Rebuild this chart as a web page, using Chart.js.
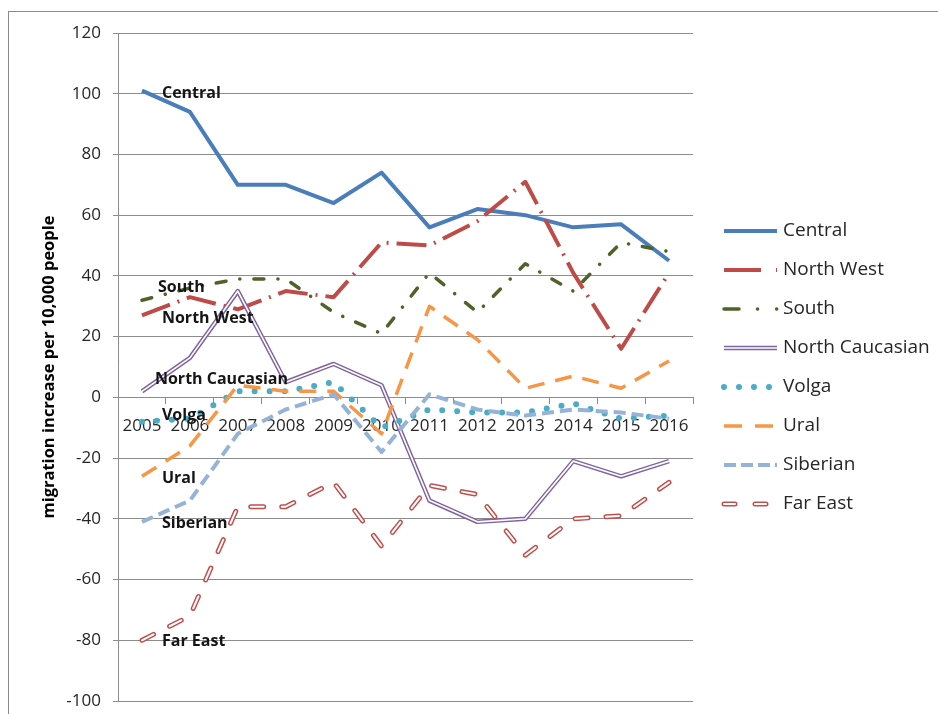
<!DOCTYPE html>
<html>
<head>
<meta charset="utf-8">
<script src="https://cdn.jsdelivr.net/npm/chart.js@4.4.0/dist/chart.umd.min.js"></script>
<style>
  html, body { margin: 0; padding: 0; background: #fff; }
  #wrap { position: relative; width: 938px; height: 714px; overflow: hidden; }
  #frame { position: absolute; left: 8px; top: 11px; width: 960px; height: 760px; border: 1px solid #8a8a8a; }
  #chart { position: absolute; left: 0; top: 0; }
</style>
</head>
<body>
<div id="wrap">
  <div id="frame"></div>
  <canvas id="chart" width="938" height="714"></canvas>
</div>
<script>
// ── Data ───────────────────────────────────────────────────────────────────
const YEARS = ['2005','2006','2007','2008','2009','2010','2011','2012','2013','2014','2015','2016'];

const CENTRAL         = [101, 94, 70, 70, 64, 74, 56, 62, 60, 56, 57, 45];
const NORTH_WEST      = [27, 33, 29, 35, 33, 51, 50, 58, 71, 41, 16, 41];
const SOUTH           = [32, 36, 39, 39, 28, 21, 41, 28, 44, 35, 51, 48];
const NORTH_CAUCASIAN = [2, 13, 35, 5, 11, 4, -34, -41, -40, -21, -26, -21];
const VOLGA           = [-8, -7, 2, 2, 5, -10, -4, -5, -5, -2, -7, -6];
const URAL            = [-26, -16, 4, 2, 2, -12, 30, 19, 3, 7, 3, 12];
const SIBERIAN        = [-41, -34, -12, -4, 1, -18, 1, -4, -6, -4, -5, -7];
const FAR_EAST        = [-80, -72, -36, -36, -28, -49, -29, -32, -52, -40, -39, -28];

const Y_MIN = -100, Y_MAX = 120, Y_STEP = 20;

// ── Styling ────────────────────────────────────────────────────────────────
Chart.defaults.font.family = "'Open Sans', sans-serif";
Chart.defaults.color = '#262626';

const GRID = '#8c8c8c';

function series(label, data, style) {
  return Object.assign({
    label: label,
    data: data,
    pointRadius: 0,
    pointHoverRadius: 0,
    fill: false,
    tension: 0,
    borderJoinStyle: 'round',
  }, style);
}

const datasets = [
  series('Central', CENTRAL, { borderColor: '#4A7EBB', borderWidth: 4, order: 9 }),
  series('North West', NORTH_WEST, { borderColor: '#BE4B48', borderWidth: 4, borderDash: [30, 8, 2, 8], legendDash: [37, 15, 3, 30], order: 8 }),
  series('South', SOUTH, { borderColor: '#4F6228', borderWidth: 3.5, borderCapStyle: 'round', borderDash: [10, 14, 0.1, 14], legendDash: [15, 18.5, 0.1, 19, 0.1, 40], order: 7 }),
  series('North Caucasian', NORTH_CAUCASIAN, { borderColor: '#8064A2', borderWidth: 4.5, order: 6 }),
  series('', NORTH_CAUCASIAN, { overlay: true, borderColor: '#ffffff', borderWidth: 1.6, order: 5.5 }),
  series('Volga', VOLGA, { borderColor: '#4BACC6', borderWidth: 6, borderCapStyle: 'round', borderDash: [0, 15], order: 5 }),
  series('Ural', URAL, { borderColor: '#F79646', borderWidth: 3.5, borderDash: [17, 11], legendDash: [18, 13], order: 4 }),
  series('Siberian', SIBERIAN, { borderColor: '#95B3D7', borderWidth: 4, borderDash: [12, 6], legendDash: [12, 5], order: 3 }),
  series('Far East', FAR_EAST, { borderColor: '#C0504D', borderWidth: 5, borderCapStyle: 'round', borderDash: [13, 18], legendDash: [11, 20], order: 2 }),
  series('', FAR_EAST, { overlay: true, borderColor: '#ffffff', borderWidth: 2, borderCapStyle: 'round', borderDash: [13, 18], legendDash: [11, 20], order: 1 }),
];

// ── Plugins ────────────────────────────────────────────────────────────────
// series names written next to the 2005 points
const seriesText = {
  id: 'seriesText',
  afterDatasetsDraw(chart, args, opts) {
    const ctx = chart.ctx;
    ctx.save();
    ctx.font = "bold 16px 'Open Sans'";
    ctx.fillStyle = '#151515';
    ctx.textBaseline = 'middle';
    chart.data.datasets.forEach((ds, i) => {
      if (ds.overlay) return;
      const pt = chart.getDatasetMeta(i).data[0];
      const off = opts.offsets[ds.label] || [20, 0];
      ctx.fillText(ds.label, pt.x + off[0], pt.y + off[1]);
    });
    ctx.restore();
  }
};

function strokeSample(ctx, ds, x0, x1, y) {
  ctx.save();
  ctx.strokeStyle = ds.borderColor;
  ctx.lineWidth = ds.borderWidth;
  ctx.lineCap = ds.borderCapStyle || 'butt';
  ctx.setLineDash(ds.legendDash || ds.borderDash || []);
  ctx.beginPath();
  ctx.moveTo(x0, y);
  ctx.lineTo(x1, y);
  ctx.stroke();
  ctx.restore();
}

// legend on the right, drawn with the same line styles
const sideLegend = {
  id: 'sideLegend',
  afterDraw(chart, args, opts) {
    const ctx = chart.ctx;
    const list = chart.data.datasets;
    let y = opts.top;
    list.forEach((ds, i) => {
      if (ds.overlay) return;
      strokeSample(ctx, ds, opts.x0, opts.x1, y);
      const next = list[i + 1];
      if (next && next.overlay) strokeSample(ctx, next, opts.x0, opts.x1, y);
      ctx.save();
      ctx.font = "19px 'Open Sans'";
      ctx.fillStyle = '#262626';
      ctx.textBaseline = 'middle';
      ctx.fillText(ds.label, opts.textX, y);
      ctx.restore();
      y += opts.step;
    });
  }
};

// ── Chart ──────────────────────────────────────────────────────────────────
new Chart(document.getElementById('chart'), {
  type: 'line',
  data: { labels: YEARS, datasets: datasets },
  plugins: [seriesText, sideLegend],
  options: {
    responsive: false,
    animation: false,
    events: [],
    layout: { padding: { left: 0, top: 33, right: 245, bottom: 13 } },
    plugins: {
      legend: { display: false },
      tooltip: { enabled: false },
      seriesText: {
        offsets: {
          'Central': [20, 3],
          'North West': [20, 3],
          'South': [16, -13],
          'North Caucasian': [13, -12],
          'Volga': [20, -6],
          'Ural': [20, 2],
          'Siberian': [20, 2],
          'Far East': [20, 1],
        }
      },
      sideLegend: { x0: 724, x1: 777, textX: 783, top: 231, step: 39 },
    },
    scales: {
      x: {
        position: { y: 0 },
        offset: true,
        grid: { display: true, drawOnChartArea: false, drawTicks: true, tickLength: 6, offset: true, color: GRID },
        border: { display: true, color: GRID },
        ticks: { font: { size: 17 }, padding: 13, maxRotation: 0, autoSkip: false, color: '#262626' },
      },
      y: {
        min: Y_MIN,
        max: Y_MAX,
        ticks: { stepSize: Y_STEP, font: { size: 17 }, padding: 12, color: '#262626' },
        grid: { color: GRID, tickLength: 5 },
        border: { display: true, color: GRID },
        title: {
          display: true,
          text: 'migration increase per 10,000 people',
          font: { size: 16.5, weight: 'bold' },
          color: '#000',
          padding: { top: 39, bottom: 0 },
        },
        afterFit(scale) {
          scale.width = 118;
          scale.paddingTop = 10;
          scale.paddingBottom = 10;
        },
      },
    },
  },
});
</script>
</body>
</html>
